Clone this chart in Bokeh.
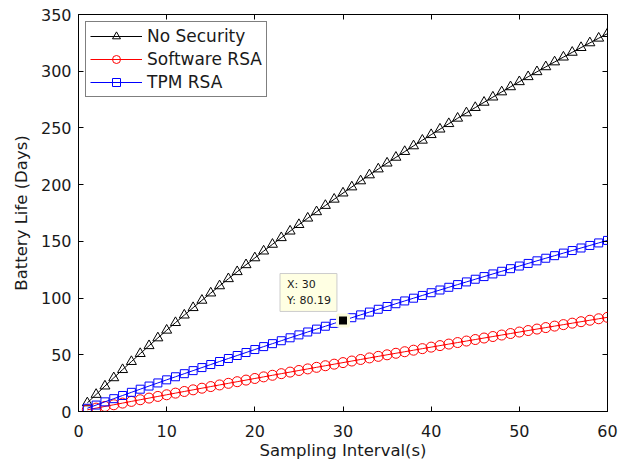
from bokeh.plotting import figure
from bokeh.models import (Range1d, LinearAxis, SingleIntervalTicker, Legend,
                          LegendItem, Label, CustomJSTickFormatter)
from bokeh.embed import file_html
from bokeh.resources import INLINE

# Sampling interval (s)
interval = [1, 2, 3, 4, 5, 6, 7, 8, 9, 10,
            11, 12, 13, 14, 15, 16, 17, 18, 19, 20,
            21, 22, 23, 24, 25, 26, 27, 28, 29, 30,
            31, 32, 33, 34, 35, 36, 37, 38, 39, 40,
            41, 42, 43, 44, 45, 46, 47, 48, 49, 50,
            51, 52, 53, 54, 55, 56, 57, 58, 59, 60]

# Battery life (days) for each configuration
no_security = [7.56, 15.02, 22.40, 29.69, 36.89, 44.00, 51.03, 57.98, 64.85, 71.63,
               78.34, 84.97, 91.53, 98.01, 104.42, 110.76, 117.02, 123.22, 129.35, 135.41,
               141.41, 147.34, 153.20, 159.00, 164.75, 170.43, 176.05, 181.61, 187.11, 192.56,
               197.94, 203.28, 208.56, 213.78, 218.96, 224.08, 229.15, 234.16, 239.13, 244.05,
               248.92, 253.75, 258.52, 263.25, 267.94, 272.58, 277.17, 281.72, 286.23, 290.70,
               295.12, 299.51, 303.85, 308.15, 312.41, 316.63, 320.82, 324.97, 329.08, 333.15]

software_rsa = [1.49, 2.98, 4.47, 5.95, 7.42, 8.90, 10.36, 11.83, 13.29, 14.75,
                16.20, 17.65, 19.10, 20.54, 21.98, 23.41, 24.84, 26.27, 27.69, 29.11,
                30.53, 31.94, 33.35, 34.75, 36.16, 37.55, 38.95, 40.34, 41.73, 43.11,
                44.49, 45.87, 47.24, 48.61, 49.98, 51.34, 52.70, 54.05, 55.41, 56.75,
                58.10, 59.44, 60.78, 62.12, 63.45, 64.78, 66.10, 67.42, 68.74, 70.06,
                71.37, 72.68, 73.98, 75.29, 76.59, 77.88, 79.17, 80.46, 81.75, 83.03]

tpm_rsa = [2.85, 5.68, 8.50, 11.31, 14.11, 16.90, 19.67, 22.43, 25.17, 27.91,
           30.63, 33.34, 36.04, 38.73, 41.41, 44.07, 46.73, 49.37, 52.00, 54.62,
           57.22, 59.82, 62.40, 64.98, 67.54, 70.09, 72.63, 75.16, 77.68, 80.19,
           82.69, 85.18, 87.66, 90.12, 92.58, 95.03, 97.46, 99.89, 102.31, 104.71,
           107.11, 109.50, 111.87, 114.24, 116.60, 118.94, 121.28, 123.61, 125.93, 128.24,
           130.54, 132.83, 135.11, 137.38, 139.65, 141.90, 144.15, 146.38, 148.61, 150.83]

series_names = ["No Security", "Software RSA", "TPM RSA"]
x_ticks_interval = 10
y_ticks_interval = 50

# Data tip on the TPM RSA curve
tip_index = 29

FONT = "DejaVu Sans"

p = figure(width=618, height=462, output_backend="svg", toolbar_location=None,
           x_range=Range1d(0, 60), y_range=Range1d(0, 350),
           min_border_left=78, min_border_right=11,
           min_border_top=14, min_border_bottom=51)
p.xgrid.visible = False
p.ygrid.visible = False
p.outline_line_color = "black"
p.outline_line_width = 1
p.background_fill_color = "white"
p.border_fill_color = "white"

xt = SingleIntervalTicker(interval=x_ticks_interval)
yt = SingleIntervalTicker(interval=y_ticks_interval)
p.xaxis.ticker = xt
p.yaxis.ticker = yt

for ax in (p.xaxis[0], p.yaxis[0]):
    ax.axis_line_color = "black"
    ax.major_tick_in = 5
    ax.major_tick_out = 0
    ax.minor_tick_line_color = None
    ax.major_tick_line_color = "black"
    ax.major_label_text_font = FONT
    ax.major_label_text_font_size = "16px"
    ax.major_label_text_color = "#1a1a1a"
    ax.axis_label_text_font = FONT
    ax.axis_label_text_font_size = "16.5px"
    ax.axis_label_text_font_style = "normal"
    ax.axis_label_text_color = "#1a1a1a"

p.xaxis.axis_label = "Sampling Interval(s)"
p.yaxis.axis_label = "Battery Life (Days)"
p.xaxis.major_label_standoff = 9
p.yaxis.major_label_standoff = 3
p.xaxis.axis_label_standoff = 1
p.yaxis.axis_label_standoff = 7

# Tick marks on the top and right edges of the box (no labels there)
blank = CustomJSTickFormatter(code="return ''")
for loc, tk in (("above", xt), ("right", yt)):
    ax = LinearAxis(ticker=tk, formatter=blank, axis_line_color=None,
                    major_tick_in=5, major_tick_out=0,
                    minor_tick_line_color=None, major_label_standoff=0,
                    major_label_text_font_size="1px")
    p.add_layout(ax, loc)

r_ns_line = p.line(interval, no_security, line_color="black", line_width=1)
r_ns_mark = p.scatter(interval, no_security, marker="triangle", size=10,
                      line_color="black", fill_color=None, line_width=1)
r_sw_line = p.line(interval, software_rsa, line_color="#ff0000", line_width=1)
r_sw_mark = p.scatter(interval, software_rsa, marker="circle", size=10,
                      line_color="#ff0000", fill_color=None, line_width=1)
r_tpm_line = p.line(interval, tpm_rsa, line_color="#0000ff", line_width=1)
r_tpm_mark = p.scatter(interval, tpm_rsa, marker="square", size=8,
                       line_color="#0000ff", fill_color=None, line_width=1)

legend = Legend(items=[
    LegendItem(label=series_names[0], renderers=[r_ns_line, r_ns_mark]),
    LegendItem(label=series_names[1], renderers=[r_sw_line, r_sw_mark]),
    LegendItem(label=series_names[2], renderers=[r_tpm_line, r_tpm_mark]),
], location="top_left")
legend.margin = 7
legend.padding = 4
legend.spacing = 3
legend.label_height = 20
legend.glyph_height = 20
legend.glyph_width = 52
legend.label_standoff = 5
legend.label_text_font = FONT
legend.label_text_font_size = "17px"
legend.label_text_color = "#1a1a1a"
legend.border_line_color = "black"
legend.border_line_width = 1
legend.background_fill_color = "white"
legend.background_fill_alpha = 1
p.add_layout(legend, "center")

# Data tip marker and its box
tip_x = interval[tip_index]
tip_y = tpm_rsa[tip_index]
p.scatter([tip_x], [tip_y], marker="square", size=11, fill_color="black",
          line_color="#fbfbdc", line_width=3)
tip = Label(x=tip_x, y=tip_y, x_units="data", y_units="data",
            text=f"X: {tip_x}\nY: {tip_y:.2f}",
            x_offset=-63, y_offset=47, text_align="left", text_baseline="top",
            text_font=FONT, text_font_size="11px", text_color="#1a1a1a",
            text_line_height=1.3,
            padding=dict(left=7, right=6, top=4, bottom=4),
            background_fill_color="#ffffe3", background_fill_alpha=1,
            border_line_color="#cccccc", border_line_width=1)
p.add_layout(tip)

open("out.html", "w").write(file_html(p, INLINE))
